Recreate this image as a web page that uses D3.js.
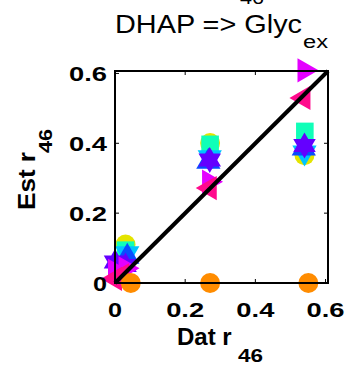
<!DOCTYPE html>
<html>
<head>
<meta charset="utf-8">
<script src="https://cdn.jsdelivr.net/npm/d3@7"></script>
<style>
  body { margin: 0; background: #fff; }
  text { font-family: "Liberation Sans", Arial, sans-serif; }
</style>
</head>
<body>
<svg width="349" height="368"></svg>
<script>
// data
var tickValues = [0, 0.2, 0.4, 0.6];
var tickLabels = ["0", "0.2", "0.4", "0.6"];
var axisMax = 0.607;

var seriesNames = ["yellow", "mint", "cyan", "blue", "purple", "magenta", "pink", "orange"];
var seriesMarkers = ["circle", "square", "tridown", "triup", "hexagram", "triright", "trileft", "circle"];
var seriesColors = ["#e4e400", "#10ffb8", "#00c4ff", "#0a4cff", "#6400ff", "#e400ff", "#ff0a8c", "#ff8c00"];
var seriesX = [
    [0.03, 0.271, 0.54],
    [0.03, 0.271, 0.541],
    [0.035, 0.27, 0.54],
    [0.035, 0.266, 0.538],
    [0.0, 0.03, 0.27, 0.54],
    [0.0, 0.03, 0.268, 0.54],
    [0.0, 0.02, 0.27, 0.537],
    [0.045, 0.271, 0.551]
];
var seriesY = [
    [0.11, 0.401, 0.366],
    [0.094, 0.397, 0.434],
    [0.085, 0.36, 0.374],
    [0.075, 0.347, 0.385],
    [0.06, 0.05, 0.352, 0.394],
    [0.035, 0.042, 0.29, 0.609],
    [0.012, 0.022, 0.272, 0.53],
    [0, 0, 0]
];

var svg = d3.select("svg");
var pLeft = 115, pRight = 328, pTop = 71, pBottom = 283;

var x = d3.scaleLinear().domain([0, axisMax]).range([pLeft, pRight]);
var y = d3.scaleLinear().domain([0, axisMax]).range([pBottom, pTop]);

// marker shapes
function hexagram(r) {
    var pts = [];
    for (var k = 0; k < 12; k++) {
        var a = -Math.PI / 2 + k * Math.PI / 6;
        var rr = k % 2 == 0 ? r : r / Math.sqrt(3);
        pts.push([rr * Math.cos(a), rr * Math.sin(a)]);
    }
    return "M" + pts.join("L") + "Z";
}
function triangle(r, angle) {
    var pts = [];
    for (var k = 0; k < 3; k++) {
        var a = angle + k * 2 * Math.PI / 3;
        pts.push([r * Math.cos(a), r * Math.sin(a)]);
    }
    return "M" + pts.join("L") + "Z";
}
function markerPath(m) {
    if (m == "circle") return d3.symbol(d3.symbolCircle, 314)();
    if (m == "square") return d3.symbol(d3.symbolSquare, 310)();
    if (m == "hexagram") return hexagram(13);
    if (m == "triup") return triangle(14, -Math.PI / 2);
    if (m == "tridown") return triangle(14, Math.PI / 2);
    if (m == "triright") return triangle(14, 0);
    if (m == "trileft") return triangle(14, Math.PI);
}

var points = [];
seriesNames.forEach(function (name, i) {
    seriesX[i].forEach(function (v, j) {
        points.push({ s: i, x: v, y: seriesY[i][j] });
    });
});

svg.append("g").attr("class", "markers")
    .selectAll("path")
    .data(points)
    .enter().append("path")
    .attr("d", function (d) { return markerPath(seriesMarkers[d.s]); })
    .attr("transform", function (d) { return "translate(" + x(d.x) + "," + y(d.y) + ")"; })
    .attr("fill", function (d) { return seriesColors[d.s]; });

// identity line
svg.append("line")
    .attr("x1", x(0)).attr("y1", y(0))
    .attr("x2", x(axisMax)).attr("y2", y(axisMax))
    .attr("stroke", "#000").attr("stroke-width", 4);

// box with inside ticks on all four sides
var g = svg.append("g");
g.append("rect")
    .attr("x", pLeft).attr("y", pTop)
    .attr("width", pRight - pLeft).attr("height", pBottom - pTop)
    .attr("fill", "none").attr("stroke", "#000").attr("stroke-width", 2);

var tl = 4;
tickValues.forEach(function (t) {
    g.append("line").attr("x1", x(t)).attr("x2", x(t)).attr("y1", pBottom).attr("y2", pBottom - tl).attr("stroke", "#000");
    g.append("line").attr("x1", x(t)).attr("x2", x(t)).attr("y1", pTop).attr("y2", pTop + tl).attr("stroke", "#000");
    g.append("line").attr("y1", y(t)).attr("y2", y(t)).attr("x1", pLeft).attr("x2", pLeft + tl).attr("stroke", "#000");
    g.append("line").attr("y1", y(t)).attr("y2", y(t)).attr("x1", pRight).attr("x2", pRight - tl).attr("stroke", "#000");
});

function labelWidth(s) { return s.length == 1 ? 14 : 38; }

svg.append("g").selectAll("text")
    .data(tickValues).enter().append("text")
    .attr("x", function (d) { return x(d); })
    .attr("y", 317)
    .attr("text-anchor", "middle")
    .attr("font-size", 21).attr("font-weight", "bold")
    .attr("textLength", function (d, i) { return labelWidth(tickLabels[i]); })
    .attr("lengthAdjust", "spacingAndGlyphs")
    .text(function (d, i) { return tickLabels[i]; });

svg.append("g").selectAll("text")
    .data(tickValues).enter().append("text")
    .attr("x", 107)
    .attr("y", function (d) { return y(d) + 8; })
    .attr("text-anchor", "end")
    .attr("font-size", 21).attr("font-weight", "bold")
    .attr("textLength", function (d, i) { return labelWidth(tickLabels[i]); })
    .attr("lengthAdjust", "spacingAndGlyphs")
    .text(function (d, i) { return tickLabels[i]; });

// axis labels
svg.append("text")
    .attr("x", 177).attr("y", 345)
    .attr("font-size", 24).attr("font-weight", "bold")
    .text("Dat r");
svg.append("text")
    .attr("x", 238).attr("y", 362)
    .attr("font-size", 18).attr("font-weight", "bold")
    .attr("textLength", 25).attr("lengthAdjust", "spacingAndGlyphs")
    .text("46");

var yl = svg.append("g").attr("transform", "translate(35,210) rotate(-90)");
yl.append("text")
    .attr("x", 0).attr("y", 0)
    .attr("font-size", 24).attr("font-weight", "bold")
    .attr("textLength", 58).attr("lengthAdjust", "spacingAndGlyphs")
    .text("Est r");
yl.append("text")
    .attr("x", 57).attr("y", 17)
    .attr("font-size", 18).attr("font-weight", "bold")
    .attr("textLength", 24).attr("lengthAdjust", "spacingAndGlyphs")
    .text("46");

// title (first line cut off at top)
svg.append("text")
    .attr("x", 240).attr("y", 4)
    .attr("font-size", 18)
    .attr("textLength", 24).attr("lengthAdjust", "spacingAndGlyphs")
    .text("46");
svg.append("text")
    .attr("x", 115).attr("y", 33)
    .attr("font-size", 25)
    .attr("textLength", 187).attr("lengthAdjust", "spacingAndGlyphs")
    .text("DHAP => Glyc");
svg.append("text")
    .attr("x", 303).attr("y", 48)
    .attr("font-size", 18)
    .attr("textLength", 25).attr("lengthAdjust", "spacingAndGlyphs")
    .text("ex");
</script>
</body>
</html>
